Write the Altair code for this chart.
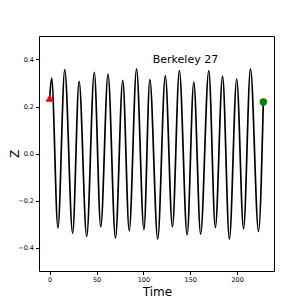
import altair as alt
import pandas as pd

# Extrema of the oscillation (time, Z)
times = [0, 2.1, 8.8, 16.1, 24.5, 31.4, 39.5, 47.6, 54.5, 62.3, 70.2, 78.0, 84.9,
         92.7, 100.6, 106.9, 115.3, 123.4, 131.0, 138.4, 146.7, 153.8, 161.1,
         169.8, 176.8, 184.5, 191.8, 199.6, 206.9, 214.3, 222.9, 228.0]
zvals = [0.236, 0.321, -0.317, 0.357, -0.339, 0.307, -0.353, 0.345, -0.312, 0.338,
         -0.360, 0.311, -0.329, 0.360, -0.324, 0.314, -0.364, 0.331, -0.312, 0.353,
         -0.346, 0.304, -0.343, 0.353, -0.315, 0.329, -0.364, 0.317, -0.321, 0.360,
         -0.332, 0.219]

start_pt = {"t": 0.0, "z": 0.236}
end_pt = {"t": 228.0, "z": 0.219}
label_text = "Berkeley 27"
label_pos = {"t": 110.0, "z": 0.387}

x_ticks = [0, 50, 100, 150, 200]
y_ticks = [-0.4, -0.2, 0.0, 0.2, 0.4]

df = pd.DataFrame({"t": times, "z": zvals})
df_start = pd.DataFrame([start_pt])
df_end = pd.DataFrame([end_pt])
df_label = pd.DataFrame([{**label_pos, "label": label_text}])

FONT = "DejaVu Sans"

xscale = alt.Scale(domain=[-11.4, 239.4], nice=False, zero=False)
yscale = alt.Scale(domain=[-0.5, 0.5], nice=False, zero=False)

xaxis = alt.Axis(values=x_ticks, title="Time", grid=False, format="d",
                 titleFontSize=12, titleFont=FONT, titleFontWeight="normal",
                 titleColor="black", titleX=118, titleY=24,
                 titleBaseline="alphabetic", titleAnchor="middle",
                 labelFontSize=6.5, labelFont=FONT, labelColor="black",
                 tickColor="black", tickSize=3.5, labelPadding=2,
                 domain=False)
yaxis = alt.Axis(values=y_ticks, title="Z", grid=False, format=".1f",
                 labelExpr="replace(datum.label, '-', '\u2212')",
                 titleFontSize=12, titleFont=FONT, titleFontWeight="normal",
                 titleColor="black", titleX=-18, titleY=117.5,
                 titleAnchor="middle",
                 labelFontSize=6.5, labelFont=FONT, labelColor="black",
                 tickColor="black", tickSize=3.5, labelPadding=2,
                 domain=False)

line = alt.Chart(df).mark_line(color="black", strokeWidth=1.7,
                               interpolate="monotone").encode(
    x=alt.X("t:Q", scale=xscale, axis=xaxis),
    y=alt.Y("z:Q", scale=yscale, axis=yaxis),
)

start = alt.Chart(df_start).mark_point(shape="triangle-up", filled=True,
                                        color="red", size=70, opacity=1).encode(
    x=alt.X("t:Q", scale=xscale), y=alt.Y("z:Q", scale=yscale))

end = alt.Chart(df_end).mark_point(shape="circle", filled=True,
                                    color="green", size=55, opacity=1).encode(
    x=alt.X("t:Q", scale=xscale), y=alt.Y("z:Q", scale=yscale))

text = alt.Chart(df_label).mark_text(align="left", baseline="alphabetic",
                                      font=FONT, fontSize=11, color="black").encode(
    x=alt.X("t:Q", scale=xscale), y=alt.Y("z:Q", scale=yscale),
    text="label:N")

chart = alt.layer(line, start, end, text).properties(
    width=235, height=235,
    background="white",
    autosize=alt.AutoSizeParams(type="none"),
    padding={"left": 31, "top": 28, "right": 20, "bottom": 35},
).configure_view(stroke="black", strokeWidth=1)

chart.save("out.html", embed_options={"renderer": "svg", "actions": False})
